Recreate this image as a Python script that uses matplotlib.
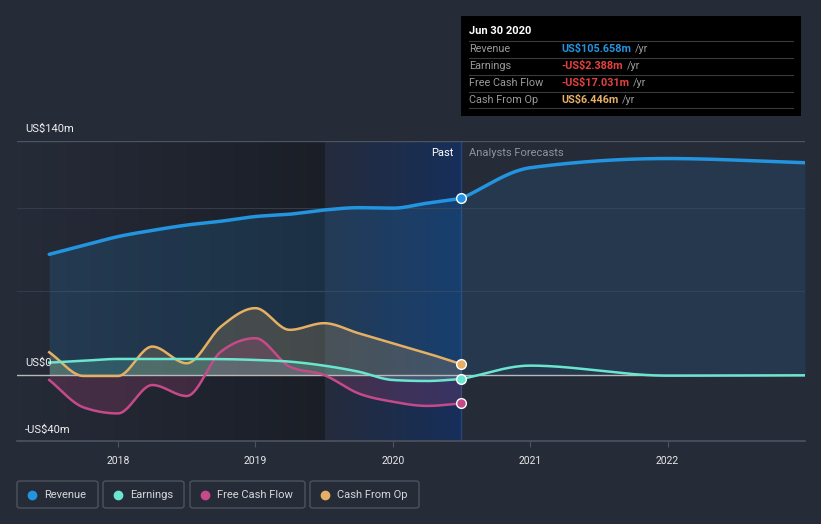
import numpy as np
import matplotlib.pyplot as plt
from matplotlib.patches import Rectangle, FancyBboxPatch

plt.rcParams['font.family'] = ['Roboto', 'DejaVu Sans']

# quarterly history (US$ m)
past_t = [2017.5, 2017.75, 2018.0, 2018.25, 2018.5, 2018.75, 2019.0,
          2019.25, 2019.5, 2019.75, 2020.0, 2020.25, 2020.5]
revenue = [72.2, 77.5, 82.8, 86.5, 89.7, 92.0, 94.8, 96.2, 98.7, 100.1, 99.8, 102.8, 105.658]
earnings = [7.4, 8.5, 9.6, 9.6, 9.6, 9.5, 9.0, 8.0, 5.6, 2.0, -3.0, -3.6, -2.388]
free_cash_flow = [-3.0, -19.4, -23.0, -6.0, -12.6, 14.0, 22.0, 5.0, 0.0, -11.0, -16.0, -18.5, -17.031]
cash_from_op = [13.6, -0.6, -0.6, 17.0, 7.0, 29.0, 40.0, 27.0, 31.0, 25.0, 19.0, 13.0, 6.446]

# analyst forecasts
fc_t = [2020.5, 2021.0, 2022.0, 2023.0]
revenue_fc = [105.658, 124.0, 129.5, 127.0]
earnings_fc = [-2.388, 5.6, -0.4, -0.2]

years = [2018, 2019, 2020, 2021, 2022]
y_ticks = [140, 0, -40]
y_labels = ['US$140m', 'US$0', '-US$40m']

tip_title = 'Jun 30 2020'
tip_names = ['Revenue', 'Earnings', 'Free Cash Flow', 'Cash From Op']
tip_values = ['US$105.658m', '-US$2.388m', '-US$17.031m', 'US$6.446m']

BG = '#262b38'
C_REV = '#2394df'
C_EARN = '#6ce5d0'
C_FCF = '#c64a8a'
C_CFO = '#e6b064'
C_NEG = '#e64141'


def smooth(x, y, n=300):
    # monotone cubic (like d3 curveMonotoneX)
    x = np.asarray(x, float)
    y = np.asarray(y, float)
    h = np.diff(x)
    d = np.diff(y) / h
    m = np.zeros_like(y)
    m[0], m[-1] = d[0], d[-1]
    for i in range(1, len(y) - 1):
        s0, s1 = d[i - 1], d[i]
        p = (s0 * h[i] + s1 * h[i - 1]) / (h[i - 1] + h[i])
        m[i] = (np.sign(s0) + np.sign(s1)) * min(abs(s0), abs(s1), 0.5 * abs(p))
    xs = np.linspace(x[0], x[-1], n)
    k = np.clip(np.searchsorted(x, xs) - 1, 0, len(h) - 1)
    t = (xs - x[k]) / h[k]
    h00 = 2 * t**3 - 3 * t**2 + 1
    h10 = t**3 - 2 * t**2 + t
    h01 = -2 * t**3 + 3 * t**2
    h11 = t**3 - t**2
    ys = h00 * y[k] + h10 * h[k] * m[k] + h01 * y[k + 1] + h11 * h[k] * m[k + 1]
    return xs, ys


W, H = 821, 524
fig = plt.figure(figsize=(W / 100, H / 100), dpi=100, facecolor=BG)


def fx(px):
    return px / W


def fy(py):
    return 1 - py / H


x0 = 2018 + (17 - 118) / 137.5
x1 = 2023.0
ax = fig.add_axes([fx(17), fy(441), fx(805) - fx(17), fy(141) - fy(441)])
ax.set_facecolor(BG)
ax.set_xlim(x0, x1)
ax.set_ylim(-39.5, 140)
for s in ax.spines.values():
    s.set_visible(False)
ax.set_yticks([])
ax.set_xticks(years)
ax.set_xticklabels([str(y) for y in years], color='#e8e8e8', fontsize=7.5)
ax.tick_params(axis='x', length=4, color='#4d5360', pad=7)

# background shading
grad = np.zeros((2, 256, 4))
grad[..., 3] = np.linspace(0.0, 0.3, 256)
ax.imshow(grad, extent=[x0, 2019.5, -39.5, 140], aspect='auto', zorder=0)
blue = np.zeros((2, 256, 4))
blue[..., 0], blue[..., 1], blue[..., 2] = 0.07, 0.19, 0.40
blue[..., 3] = np.linspace(0.08, 0.75, 256)
ax.imshow(blue, extent=[2019.5, 2020.5, -39.5, 140], aspect='auto', zorder=0)
ax.axvline(2020.5, color='#24487a', lw=1, zorder=1)

# grid
ax.axhline(140, color='#4d5360', lw=1, zorder=1)
for g in [100, 50]:
    ax.axhline(g, color='#343b4a', lw=0.8, zorder=1)
ax.axhline(-39.5, color='#4d5360', lw=1.2, zorder=1, clip_on=False)

# revenue
rx, ry = smooth(past_t, revenue)
fx_, fy_ = smooth(fc_t, revenue_fc)
ax.fill_between(rx, 0, ry, color=C_REV, alpha=0.16, lw=0, zorder=2)
ax.fill_between(fx_, 0, fy_, color=C_REV, alpha=0.13, lw=0, zorder=2)
ax.plot(rx, ry, color=C_REV, lw=2.5, zorder=5, solid_capstyle='round')
ax.plot(fx_, fy_, color=C_REV, lw=2.5, zorder=5, solid_capstyle='round')

for series, col in [(cash_from_op, C_CFO), (free_cash_flow, C_FCF), (earnings, C_EARN)]:
    sx, sy = smooth(past_t, series)
    ax.fill_between(sx, 0, sy, color=col, alpha=0.2, lw=0, zorder=3)
    ax.plot(sx, sy, color=col, lw=1.8, zorder=6)

ex, ey = smooth(fc_t, earnings_fc)
ax.plot(ex, ey, color=C_EARN, lw=1.8, zorder=6)

ax.axhline(0, color='#b8b8b8', lw=1, zorder=4)

for series, col in [(revenue, C_REV), (cash_from_op, C_CFO), (earnings, C_EARN), (free_cash_flow, C_FCF)]:
    ax.plot(past_t[-1], series[-1], 'o', ms=7, mfc=col, mec='white', mew=1, zorder=8)

# y labels
for v, lab in zip(y_ticks, y_labels):
    py = 375 - v * 234 / 140
    fig.text(fx(25), fy(py - 12), lab, color='#f0f0f0', fontsize=8, va='center', ha='left')

fig.text(fx(453), fy(153), 'Past', color='#ffffff', fontsize=8, ha='right', va='center')
fig.text(fx(469), fy(153), 'Analysts Forecasts', color='#8e939c', fontsize=8, ha='left', va='center')

# tooltip
fig.add_artist(Rectangle((fx(461), fy(116)), fx(801) - fx(461), fy(16) - fy(116),
                         transform=fig.transFigure, facecolor='#000000', edgecolor='none', zorder=10))
fig.text(fx(469), fy(31), tip_title, color='white', fontsize=8, fontweight='bold', va='center', zorder=11)
for sep in [40.5, 57.5, 74.5, 91.5, 108.5]:
    fig.add_artist(plt.Line2D([fx(469), fx(793)], [fy(sep), fy(sep)], transform=fig.transFigure,
                              color='#3a3a3a', lw=0.8, zorder=11))
fig.canvas.draw()
renderer = fig.canvas.get_renderer()
val_cols = [C_REV, C_NEG, C_NEG, C_CFO]
for i, (nm, val, col) in enumerate(zip(tip_names, tip_values, val_cols)):
    py = 49 + 17 * i
    fig.text(fx(469), fy(py), nm, color='#9a9a9a', fontsize=7.8, va='center', zorder=11)
    t = fig.text(fx(561), fy(py), val, color=col, fontsize=7.8, fontweight='bold', va='center', zorder=11)
    bb = t.get_window_extent(renderer)
    fig.text(fx(bb.x1 + 4), fy(py), '/yr', color='#9a9a9a', fontsize=7.8, va='center', zorder=11)

# legend
legend_boxes = [(17, 98), (103, 184), (190, 305), (310, 419)]
for (bx0, bx1), nm, col in zip(legend_boxes, tip_names, [C_REV, C_EARN, C_FCF, C_CFO]):
    fig.add_artist(FancyBboxPatch((fx(bx0), fy(508)), fx(bx1) - fx(bx0), fy(481) - fy(508),
                                  boxstyle='round,pad=0,rounding_size=0.004', transform=fig.transFigure,
                                  facecolor='none', edgecolor='#4d5360', lw=1))
    fig.add_artist(plt.Line2D([fx(bx0 + 15)], [fy(494.5)], marker='o', ms=6, color=col,
                              transform=fig.transFigure))
    fig.text(fx(bx0 + 27), fy(494.5), nm, color='#d8d8d8', fontsize=8, va='center')

fig.savefig('out.png', dpi=100, facecolor=BG)
